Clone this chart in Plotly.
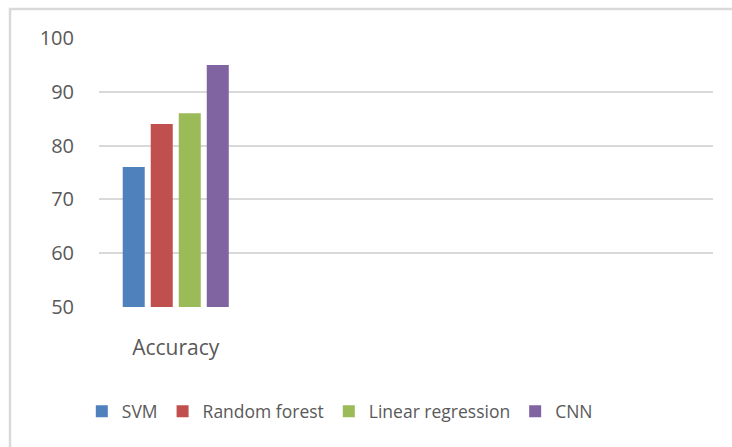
import plotly.graph_objects as go

categories = ["Accuracy", " ", "  ", "   "]
series_names = ["SVM", "Random forest", "Linear regression", "CNN"]
svm = [76, None, None, None]
random_forest = [84, None, None, None]
linear_regression = [86, None, None, None]
cnn = [95, None, None, None]
colors = ["#4F81BD", "#C0504D", "#9BBB59", "#8064A2"]

W, H = 732, 447
L, R, T, B = 99, 19, 38, 140

fig = go.Figure()
for name, vals, c in zip(series_names, [svm, random_forest, linear_regression, cnn], colors):
    fig.add_trace(go.Bar(name=name, x=categories, y=vals, marker=dict(color=c, line=dict(width=0))))

pw = W - L - R
ph = H - T - B
fig.add_shape(type="rect", xref="paper", yref="paper",
              x0=(10 - L) / pw, x1=(W + 20 - L) / pw,
              y0=(H - B - (H + 20)) / ph, y1=(H - B - 9) / ph,
              line=dict(color="#D9D9D9", width=2.5), fillcolor="rgba(0,0,0,0)", layer="below")

fig.update_layout(
    width=W, height=H,
    margin=dict(l=L, r=R, t=T, b=B, autoexpand=False),
    paper_bgcolor="white", plot_bgcolor="white",
    barmode="group", bargap=0.27, bargroupgap=0.214,
    font=dict(family="Open Sans", color="#595959"),
    xaxis=dict(type="category", categoryorder="array", categoryarray=categories,
               showgrid=False, showline=False, zeroline=False,
               tickfont=dict(size=21), ticklabelstandoff=26),
    yaxis=dict(range=[50, 100], tickvals=[50, 60, 70, 80, 90, 100],
               showgrid=True, gridcolor="#D9D9D9", gridwidth=1.5,
               showline=False, zeroline=False,
               tickfont=dict(size=20), ticklabelstandoff=24),
    legend=dict(orientation="h", x=-0.028, xanchor="left", y=-0.388, yanchor="middle",
                font=dict(size=17.5, color="#595959"), traceorder="normal"),
)

fig.write_html("out.html", config={"displayModeBar": False},
               post_script="document.body.style.margin='0';document.body.style.padding='0';")
